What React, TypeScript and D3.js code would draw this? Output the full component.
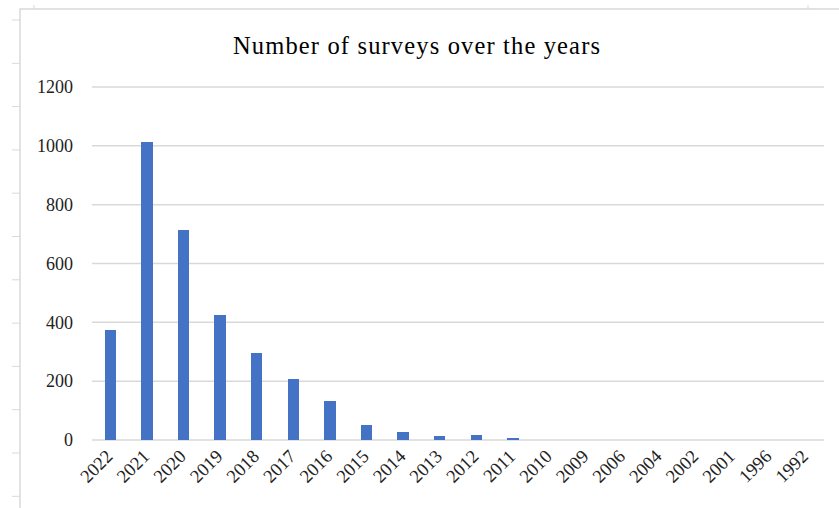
import React from 'react';
import * as d3 from 'd3';

// survey counts per year
const years = ['2022', '2021', '2020', '2019', '2018', '2017', '2016', '2015', '2014', '2013',
  '2012', '2011', '2010', '2009', '2006', '2004', '2002', '2001', '1996', '1992'];
const surveys = [373, 1013, 713, 425, 295, 207, 132, 51, 26, 12, 17, 6, 1, 1, 1, 1, 1, 1, 1, 1];
const yTicks = [0, 200, 400, 600, 800, 1000, 1200];
const title = 'Number of  surveys over the years';

const W = 839, H = 508;
const margin = { top: 87, right: 15, bottom: 68, left: 92 };
const font = '"Liberation Serif", "DejaVu Serif", serif';

const App = () => {
  const x = d3.scaleBand()
    .domain(years)
    .range([margin.left, W - margin.right])
    .paddingInner(0.686)
    .paddingOuter(0.343);
  const y = d3.scaleLinear().domain([0, 1200]).range([H - margin.bottom, margin.top]);

  // spreadsheet row lines peeking out left of the chart frame
  const rowLines = d3.range(20, H, 43.3);

  return (
    <svg width={W} height={H} style={{ position: 'absolute', left: 0, top: 0, background: '#fff' }}>
      {rowLines.map((r, i) => (
        <line key={i} x1={12} x2={20} y1={r} y2={r} stroke="#d9d9d9" strokeWidth={1} />
      ))}
      <line x1={34} x2={34} y1={5} y2={9} stroke="#d9d9d9" />
      <line x1={808} x2={808} y1={5} y2={9} stroke="#d9d9d9" />
      <rect x={20} y={9} width={W} height={H} fill="#fff" stroke="#d9d9d9" strokeWidth={1.5} />

      <text x={233} y={54} fontFamily={font} fontSize={24.5} fill="#000"
        textLength={367} lengthAdjust="spacing">
        {title}
      </text>

      {yTicks.map((t) => (
        <g key={t}>
          <line x1={margin.left} x2={W - margin.right} y1={y(t)} y2={y(t)} stroke="#d9d9d9" strokeWidth={1.5} />
          <text x={73} y={y(t)} dy="0.35em" textAnchor="end" fontFamily={font} fontSize={18} fill="#222">
            {t}
          </text>
        </g>
      ))}

      {years.map((yr, i) => (
        <rect
          key={yr}
          x={x(yr)}
          y={y(surveys[i])}
          width={x.bandwidth()}
          height={y(0) - y(surveys[i])}
          fill="#4472c4"
          shapeRendering="crispEdges"
        />
      ))}

      {years.map((yr) => {
        const cx = (x(yr) as number) + x.bandwidth() / 2 - 1;
        const cy = y(0) + 13;
        return (
          <text
            key={yr}
            x={cx}
            y={cy}
            transform={`rotate(-45 ${cx} ${cy})`}
            textAnchor="end"
            dy="0.35em"
            fontFamily={font}
            fontSize={18.5}
            fill="#222"
          >
            {yr}
          </text>
        );
      })}
    </svg>
  );
};

export default App;
